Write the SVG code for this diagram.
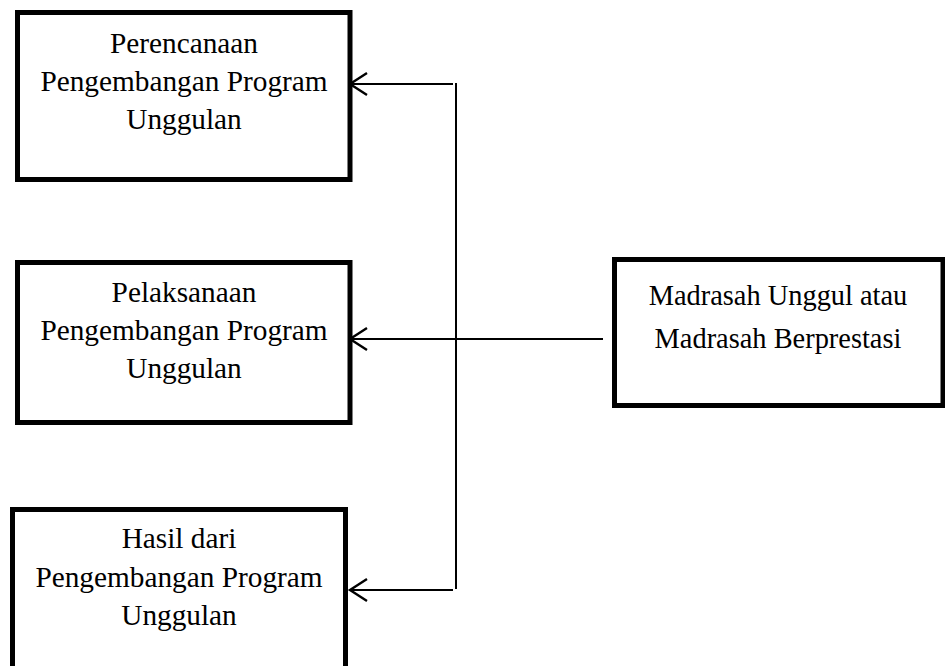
<svg xmlns="http://www.w3.org/2000/svg" width="945" height="666" viewBox="0 0 945 666">
<defs>
<style>
.box{fill:#fff;stroke:#000;stroke-width:5}
.t{font-family:"Liberation Serif","Times New Roman",serif;font-size:29.3px;fill:#000;text-anchor:middle}
.r{font-size:28.4px}
.c{fill:none;stroke:#000;stroke-width:2}
.ah{fill:none;stroke:#000;stroke-width:2.4}
</style>
</defs>
<rect width="945" height="666" fill="#fff"/>
<g id="connectors">
<line class="c" x1="350" y1="84" x2="453" y2="84"/>
<line class="c" x1="456" y1="83" x2="456" y2="589"/>
<line class="c" x1="350" y1="339" x2="603" y2="339"/>
<line class="c" x1="350" y1="590" x2="453" y2="590"/>
<polyline class="ah" points="367,73 350,84 367,95"/>
<polyline class="ah" points="367,328 350,339 367,350"/>
<polyline class="ah" points="367,579 350,590 367,601"/>
</g>
<g id="perencanaan">
<rect class="box" x="17.5" y="12.5" width="332.5" height="167"/>
<text class="t" x="184" y="53">Perencanaan</text>
<text class="t" x="184" y="90.5">Pengembangan Program</text>
<text class="t" x="184" y="128.5">Unggulan</text>
</g>
<g id="pelaksanaan">
<rect class="box" x="17.5" y="262.5" width="332.5" height="160"/>
<text class="t" x="184" y="302">Pelaksanaan</text>
<text class="t" x="184" y="340">Pengembangan Program</text>
<text class="t" x="184" y="378">Unggulan</text>
</g>
<g id="hasil">
<rect class="box" x="12.5" y="509.5" width="333" height="170"/>
<text class="t" x="179" y="548">Hasil dari</text>
<text class="t" x="179" y="587">Pengembangan Program</text>
<text class="t" x="179" y="625">Unggulan</text>
</g>
<g id="madrasah">
<rect class="box" x="614.5" y="259.5" width="328.5" height="146"/>
<text class="t r" x="778" y="305">Madrasah Unggul atau</text>
<text class="t r" x="778" y="347.5">Madrasah Berprestasi</text>
</g>
</svg>
